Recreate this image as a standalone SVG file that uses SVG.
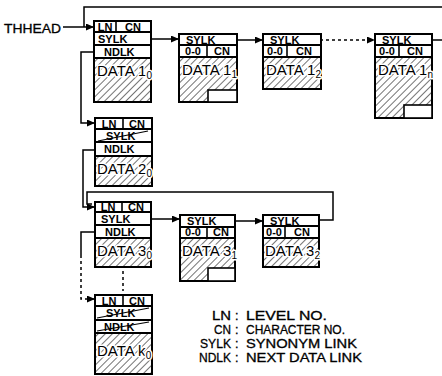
<svg xmlns="http://www.w3.org/2000/svg" width="442" height="376" viewBox="0 0 442 376">
<defs>
<pattern id="hatch" patternUnits="userSpaceOnUse" width="5" height="5" patternTransform="rotate(45)">
<rect width="5" height="5" fill="#fff"/>
<line x1="0" y1="0" x2="0" y2="5" stroke="#000" stroke-width="1.1"/>
</pattern>
<marker id="arr" markerUnits="userSpaceOnUse" markerWidth="8" markerHeight="7" refX="8" refY="3.5" orient="auto">
<path d="M0,0 L8,3.5 L0,7 z" fill="#000"/>
</marker>
<style>
.box{fill:#fff;stroke:#000;stroke-width:2}
.hat{fill:url(#hatch);stroke:#000;stroke-width:2}
.wr{fill:#fff;stroke:#000;stroke-width:1.6}
.dv{stroke:#000;stroke-width:1.6}
.x{stroke:#000;stroke-width:1.2}
.t{font-family:"Liberation Sans",Arial,sans-serif;font-size:11px;font-weight:bold;fill:#000}
.m{text-anchor:middle}
.d{font-family:"Liberation Sans",Arial,sans-serif;font-size:15px;fill:#000;stroke:#fff;stroke-width:3;paint-order:stroke;stroke-linejoin:round}
.s{font-size:10px}
.c{fill:none;stroke:#000;stroke-width:1.5}
.dash{stroke-dasharray:3 3}
.lg{font-family:"Liberation Sans",Arial,sans-serif;font-size:12.5px;fill:#000;stroke:#000;stroke-width:0.3}
</style>
</defs>
<rect width="442" height="376" fill="#fff"/>

<g id="connectors">
<text class="lg" x="4" y="33" font-size="18" textLength="57" lengthAdjust="spacingAndGlyphs">THHEAD</text>
<path class="c" d="M63,27 H94" marker-end="url(#arr)"/>
<path class="c" d="M442,7 H84 V27"/>
<path class="c" d="M144,39 H179" marker-end="url(#arr)"/>
<path class="c" d="M230,40 H263" marker-end="url(#arr)"/>
<path class="c dash" d="M314,40 H375" marker-end="url(#arr)"/>
<path class="c" d="M425,40 H442"/>
<path class="c" d="M101,52 H81 V123 H95" marker-end="url(#arr)"/>
<path class="c" d="M101,150 H83 V207 H95" marker-end="url(#arr)"/>
<path class="c" d="M313,220 H333 V192 H87 V204 H92"/>
<path class="c" d="M144,219 H180" marker-end="url(#arr)"/>
<path class="c" d="M229,221 H263" marker-end="url(#arr)"/>
<path class="c" d="M101,232 H81 V255"/>
<path class="c dash" d="M81,255 V299 H95" marker-end="url(#arr)"/>
<path class="c dash" d="M123,271 V291"/>
</g>

<g id="node-1-0">
<rect class="box" x="94" y="21" width="57" height="11"/>
<line class="dv" x1="116" y1="21" x2="116" y2="32"/>
<rect class="box" x="94" y="32" width="57" height="13"/>
<rect class="box" x="94" y="45" width="57" height="13"/>
<rect class="hat" x="94" y="58" width="57" height="44"/>
<text class="t m" x="105" y="30.5">LN</text>
<text class="t m" x="133" y="30.5">CN</text>
<text class="t" x="98" y="42.5">SYLK</text>
<text class="t" x="104" y="55.5">NDLK</text>
<text class="d" x="97" y="76">DATA 1<tspan class="s" dy="3">0</tspan></text>
</g>

<g id="node-1-1">
<rect class="box" x="179" y="34" width="58" height="11"/>
<rect class="box" x="179" y="45" width="58" height="12"/>
<line class="dv" x1="207" y1="45" x2="207" y2="57"/>
<rect class="hat" x="179" y="57" width="58" height="45"/>
<rect class="wr" x="208" y="90" width="29" height="12"/>
<text class="t" x="186" y="43.5">SYLK</text>
<text class="t m" x="193" y="55">0-0</text>
<text class="t m" x="222" y="55">CN</text>
<text class="d" x="182" y="75">DATA 1<tspan class="s" dy="3">1</tspan></text>
</g>

<g id="node-1-2">
<rect class="box" x="263" y="34" width="58" height="11"/>
<rect class="box" x="263" y="45" width="58" height="12"/>
<line class="dv" x1="287" y1="45" x2="287" y2="57"/>
<rect class="hat" x="263" y="57" width="58" height="32"/>
<text class="t" x="270" y="43.5">SYLK</text>
<text class="t m" x="275" y="55">0-0</text>
<text class="t m" x="304" y="55">CN</text>
<text class="d" x="266" y="75">DATA 1<tspan class="s" dy="3">2</tspan></text>
</g>

<g id="node-1-n">
<rect class="box" x="375" y="34" width="57" height="11"/>
<rect class="box" x="375" y="45" width="57" height="12"/>
<line class="dv" x1="399" y1="45" x2="399" y2="57"/>
<rect class="hat" x="375" y="57" width="57" height="61"/>
<rect class="wr" x="404" y="105" width="28" height="13"/>
<text class="t" x="382" y="43.5">SYLK</text>
<text class="t m" x="387" y="55">0-0</text>
<text class="t m" x="415" y="55">CN</text>
<text class="d" x="378" y="75">DATA 1<tspan class="s" dy="3">n</tspan></text>
</g>

<g id="node-2-0">
<rect class="box" x="95" y="118" width="57" height="11"/>
<line class="dv" x1="123" y1="118" x2="123" y2="129"/>
<rect class="box" x="95" y="129" width="57" height="13"/>
<rect class="box" x="95" y="142" width="57" height="14"/>
<rect class="hat" x="95" y="156" width="57" height="30"/>
<text class="t m" x="109" y="127.5">LN</text>
<text class="t m" x="137" y="127.5">CN</text>
<text class="t" x="106" y="139.5">SYLK</text>
<line class="x" x1="98" y1="141" x2="148" y2="131"/>
<text class="t" x="104" y="153">NDLK</text>
<text class="d" x="97" y="174">DATA 2<tspan class="s" dy="3">0</tspan></text>
</g>

<g id="node-3-0">
<rect class="box" x="95" y="202" width="56" height="10"/>
<line class="dv" x1="122" y1="202" x2="122" y2="212"/>
<rect class="box" x="95" y="212" width="56" height="13"/>
<rect class="box" x="95" y="225" width="56" height="13"/>
<rect class="hat" x="95" y="238" width="56" height="29"/>
<text class="t m" x="108" y="211">LN</text>
<text class="t m" x="136" y="211">CN</text>
<text class="t" x="101" y="222.5">SYLK</text>
<text class="t" x="105" y="235.5">NDLK</text>
<text class="d" x="97" y="256">DATA 3<tspan class="s" dy="3">0</tspan></text>
</g>

<g id="node-3-1">
<rect class="box" x="180" y="215" width="55" height="12"/>
<rect class="box" x="180" y="227" width="55" height="11"/>
<line class="dv" x1="207" y1="227" x2="207" y2="238"/>
<rect class="hat" x="180" y="238" width="55" height="43"/>
<rect class="wr" x="208" y="268" width="27" height="13"/>
<text class="t" x="187" y="225">SYLK</text>
<text class="t m" x="193" y="236">0-0</text>
<text class="t m" x="221" y="236">CN</text>
<text class="d" x="182" y="256">DATA 3<tspan class="s" dy="3">1</tspan></text>
</g>

<g id="node-3-2">
<rect class="box" x="263" y="215" width="56" height="11"/>
<rect class="box" x="263" y="226" width="56" height="12"/>
<line class="dv" x1="285" y1="226" x2="285" y2="238"/>
<rect class="hat" x="263" y="238" width="56" height="29"/>
<text class="t" x="270" y="224.5">SYLK</text>
<text class="t m" x="274" y="236">0-0</text>
<text class="t m" x="302" y="236">CN</text>
<text class="d" x="265" y="256">DATA 3<tspan class="s" dy="3">2</tspan></text>
</g>

<g id="node-k-0">
<rect class="box" x="95" y="295" width="57" height="11"/>
<line class="dv" x1="123" y1="295" x2="123" y2="306"/>
<rect class="box" x="95" y="306" width="57" height="14"/>
<rect class="box" x="95" y="320" width="57" height="13"/>
<rect class="hat" x="95" y="333" width="57" height="41"/>
<text class="t m" x="109" y="304.5">LN</text>
<text class="t m" x="137" y="304.5">CN</text>
<text class="t" x="106" y="317">SYLK</text>
<line class="x" x1="97" y1="318" x2="149" y2="308"/>
<text class="t" x="104" y="330.5">NDLK</text>
<line class="x" x1="97" y1="331" x2="149" y2="322"/>
<text class="d" x="97" y="356">DATA k<tspan class="s" dy="3">0</tspan></text>
</g>

<g id="legend">
<text class="lg" x="212" y="320" textLength="19" lengthAdjust="spacingAndGlyphs">LN</text>
<text class="lg" x="235" y="320">:</text>
<text class="lg" x="246" y="320" textLength="81" lengthAdjust="spacingAndGlyphs">LEVEL NO.</text>
<text class="lg" x="214" y="334" textLength="17" lengthAdjust="spacingAndGlyphs">CN</text>
<text class="lg" x="235" y="334">:</text>
<text class="lg" x="246" y="334" textLength="99" lengthAdjust="spacingAndGlyphs">CHARACTER NO.</text>
<text class="lg" x="200" y="348" textLength="31" lengthAdjust="spacingAndGlyphs">SYLK</text>
<text class="lg" x="235" y="348">:</text>
<text class="lg" x="246" y="348" textLength="111" lengthAdjust="spacingAndGlyphs">SYNONYM LINK</text>
<text class="lg" x="199" y="362" textLength="32" lengthAdjust="spacingAndGlyphs">NDLK</text>
<text class="lg" x="235" y="362">:</text>
<text class="lg" x="246" y="362" textLength="116" lengthAdjust="spacingAndGlyphs">NEXT DATA LINK</text>
</g>
</svg>
